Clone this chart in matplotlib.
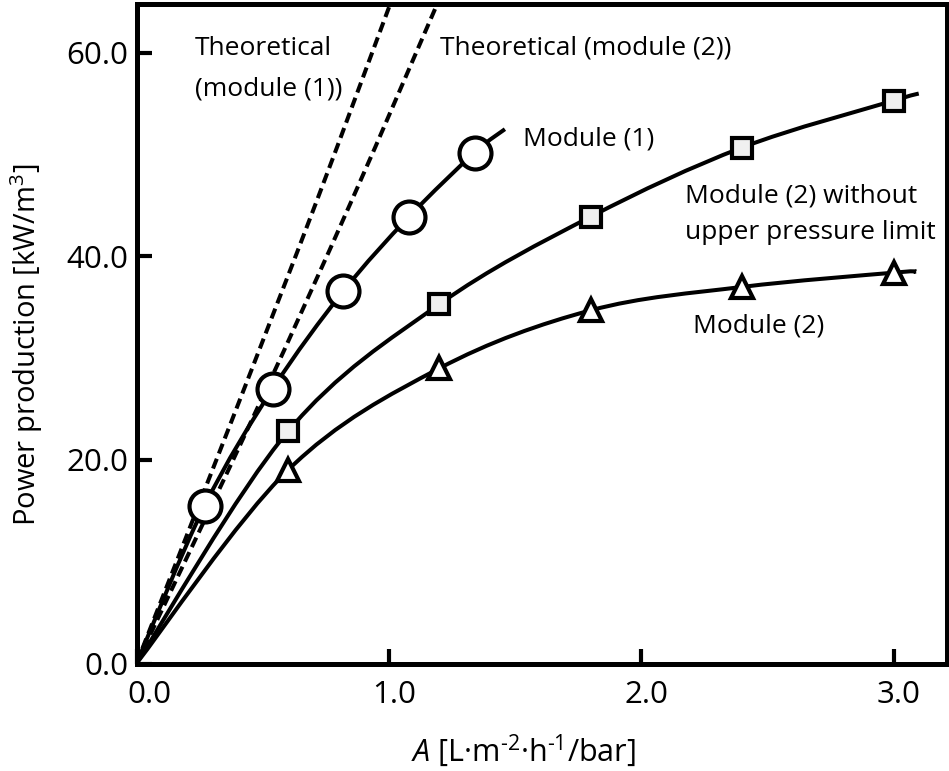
import numpy as np
import matplotlib
matplotlib.use("Agg")
import matplotlib.pyplot as plt
from matplotlib.path import Path
from matplotlib.patches import PathPatch
from matplotlib.transforms import ScaledTranslation

plt.rcParams['font.family'] = ['Open Sans', 'DejaVu Sans']
plt.rcParams['mathtext.fontset'] = 'custom'
plt.rcParams['mathtext.rm'] = 'Open Sans'
plt.rcParams['mathtext.it'] = 'Open Sans:italic'

m1_x = [0.27, 0.54, 0.82, 1.08, 1.34]
m1_y = [15.5, 27.0, 36.6, 43.9, 50.2]
m2_x = [0.6, 1.2, 1.8, 2.4, 3.0]
m2_free_y = [22.8, 35.3, 43.9, 50.7, 55.3]   # module (2) without upper pressure limit
m2_y = [19.0, 29.0, 34.7, 37.0, 38.4]        # module (2)

# fitted curves run from the origin and a bit past the last point
m1_end = (1.46, 52.5)
m2_free_end = (3.10, 56.0)
m2_end = (3.09, 38.5)

# theoretical curves
theo1_x = [0.0, 0.378, 0.715, 1.004, 1.05]
theo1_y = [0.0, 23.9, 45.5, 64.7, 67.7]
theo2_x = [0.0, 0.481, 0.853, 1.19, 1.24]
theo2_y = [0.0, 25.2, 45.5, 64.7, 67.5]

xticks = [0.0, 1.0, 2.0, 3.0]
yticks = [0.0, 20.0, 40.0, 60.0]


def smooth(xs, ys, t=1.0 / 6):
    # smoothed line through the points (bezier, excel style)
    pts = np.column_stack([xs, ys]).astype(float)
    verts = [pts[0]]
    codes = [Path.MOVETO]
    for i in range(len(pts) - 1):
        p0 = pts[i - 1] if i > 0 else pts[i]
        p1 = pts[i]
        p2 = pts[i + 1]
        p3 = pts[i + 2] if i + 2 < len(pts) else p2
        verts += [p1 + (p2 - p0) * t, p2 - (p3 - p1) * t, p2]
        codes += [Path.CURVE4] * 3
    return Path(verts, codes)


fig = plt.figure(figsize=(9.49, 7.71), dpi=100)
ax = fig.add_axes([136.5 / 949, 1 - 663.5 / 771, 810 / 949, 659.5 / 771])

lw = 2.9
for xs, ys in [(theo1_x, theo1_y), (theo2_x, theo2_y)]:
    ax.add_patch(PathPatch(smooth(xs, ys), fill=False, lw=lw, ls=(0, (2.6, 1.4)),
                           ec='black', zorder=2))

for xs, ys, end in [(m1_x, m1_y, m1_end), (m2_x, m2_free_y, m2_free_end), (m2_x, m2_y, m2_end)]:
    cx = [0.0] + list(xs) + [end[0]]
    cy = [0.0] + list(ys) + [end[1]]
    ax.add_patch(PathPatch(smooth(cx, cy), fill=False, lw=lw, ec='black', zorder=3))

ax.plot(m1_x, m1_y, ls='none', marker='o', ms=23, mfc='white', mec='black', mew=3, zorder=4)
ax.plot(m2_x, m2_free_y, ls='none', marker='s', ms=14.5, mfc='#f0f0f0', mec='black', mew=3, zorder=4)
ax.plot(m2_x, m2_y, ls='none', marker='^', ms=16.5, mfc='white', mec='black', mew=3, zorder=4)

ax.set_xlim(0, 3.21)
ax.set_ylim(0, 64.8)
ax.set_xticks(xticks)
ax.set_yticks(yticks)
ax.set_xticklabels(['%.1f' % v for v in xticks])
ax.set_yticklabels(['%.1f' % v for v in yticks])
ax.tick_params(direction='in', length=11, width=3, labelsize=22.5, top=False, right=False)
ax.tick_params(axis='x', pad=12)
ax.tick_params(axis='y', pad=6)
for s in ax.spines.values():
    s.set_linewidth(3.6)

# x tick labels sit a little to the right of their ticks in the original
for lab, dx in zip(ax.get_xticklabels(), [13, 5, 5, 5]):
    lab.set_transform(lab.get_transform() + ScaledTranslation(dx / 100, 0, fig.dpi_scale_trans))

ax.set_xlabel(r'$\mathit{A}$ [L·m$^{\text{-2}}$·h$^{\text{-1}}$/bar]', fontsize=22, labelpad=16)
ax.set_ylabel(r'Power production [kW/m$^{3}$]', fontsize=21, labelpad=15)
ax.xaxis.label.set_x(0.478)
ax.yaxis.label.set_y(0.483)

fs = 19
ax.text(0.232, 59.8, 'Theoretical', fontsize=fs, va='baseline')
ax.text(0.232, 55.85, '(module (1))', fontsize=fs, va='baseline')
ax.text(1.202, 59.8, 'Theoretical (module (2))', fontsize=fs, va='baseline')
ax.text(1.530, 50.9, 'Module (1)', fontsize=fs, va='baseline')
ax.text(2.172, 45.3, 'Module (2) without', fontsize=fs, va='baseline')
ax.text(2.172, 41.7, 'upper pressure limit', fontsize=fs, va='baseline')
ax.text(2.204, 32.5, 'Module (2)', fontsize=fs, va='baseline')

fig.savefig('out.png', dpi=100)
